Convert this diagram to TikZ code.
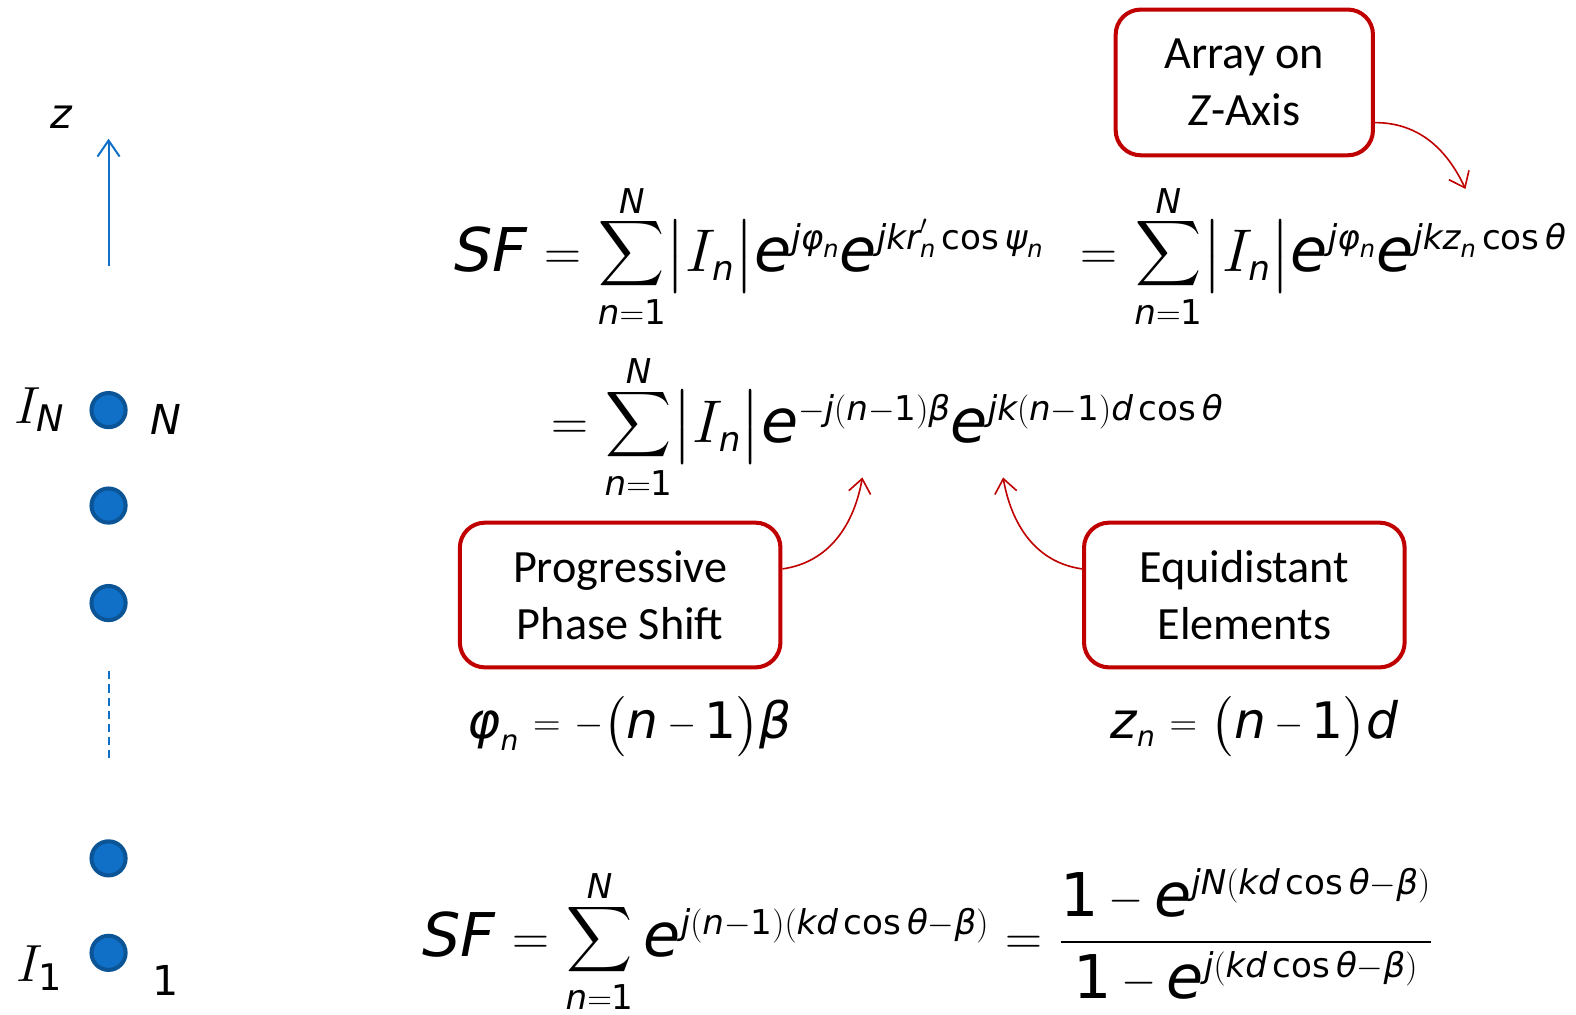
\RequirePackage{fix-cm}
\documentclass[tikz,border=0pt]{standalone}
\usepackage{amsmath}
\usepackage{graphicx}
\DeclareFontShape{OMX}{cmex}{m}{n}{<->cmex10}{}
\DeclareMathSizes{60}{60}{34}{24}
\DeclareMathSizes{50}{50}{28}{20}
\usepackage[no-math]{fontspec}
\setmainfont{Carlito}
\newfontfamily\eqf{DejaVu Sans}
\usetikzlibrary{arrows.meta}
\definecolor{axblue}{RGB}{16,112,200}
\definecolor{dotedge}{RGB}{11,84,150}
\definecolor{boxred}{RGB}{192,0,0}
\medmuskip=3mu\relax
\newcommand\vi[1]{\text{\eqf\itshape #1}}
\newcommand\vu[1]{\text{\eqf\upshape #1}}
\newcommand\meqA{\mathrel{\raisebox{0.0375em}{\scalebox{0.85}{$=$}}}}
\newcommand\meqB{\mathrel{\raisebox{0.06em}{\scalebox{0.76}{$=$}}}}
\newcommand\mmi{\mathbin{\raisebox{0.0625em}{\scalebox{0.75}{$-$}}}}
\newcommand\bsum[2]{\mathop{\vcenter{\offinterlineskip\halign{\hfil##\hfil\cr
  $\scriptstyle #2$\cr\noalign{\kern4pt}
  \scalebox{0.76}{$\displaystyle\sum$}\cr\noalign{\kern9pt}
  $\scriptstyle #1$\cr}}}}
\newcommand\Sn{\bsum{\vi{n}=\vu{1}}{\vi{N}}}
\tikzset{
  eqn/.style={inner sep=0pt, anchor=base west, font=\fontsize{60}{72}\selectfont},
  eqs/.style={inner sep=0pt, anchor=base west, font=\fontsize{50}{72}\selectfont},
  lbl/.style={inner sep=0pt, anchor=base west, font=\fontsize{41}{48}\selectfont\eqf\itshape},
  elem/.style={circle, fill=axblue, draw=dotedge, line width=4pt, minimum size=34pt, inner sep=0pt},
  callout/.style={draw=boxred, line width=4pt, rounded corners=25pt, fill=white,
    align=center, font=\fontsize{46}{57}\selectfont, inner sep=0pt},
  callarrow/.style={draw=boxred, line width=1.6pt, -{Straight Barb[length=14pt,width=22pt,line width=1.6pt]}},
}
\begin{document}
\begin{tikzpicture}[x=1pt,y=-1pt]
\useasboundingbox (0,0) rectangle (1568,1009);
% axis
\coordinate (zbot) at (108,265);
\coordinate (ztop) at (108,138);
\draw[axblue, line width=2pt, -{Straight Barb[length=16pt,width=22pt,line width=2pt]}] (zbot) -- (ztop);
\node[lbl] (zlab) at (50,128) {z};
% elements
\node[elem] (e5) at (108,408) {};
\node[elem] (e4) at (108,503) {};
\node[elem] (e3) at (108,600) {};
\node[elem] (e2) at (108,854) {};
\node[elem] (e1) at (108,948) {};
\coordinate (dtop) at (108,668);
\coordinate (dbot) at (108,758);
\draw[axblue, line width=2pt, dash pattern=on 8pt off 5pt] (dtop) -- (dbot);
\node[inner sep=0pt, anchor=base west, font=\fontsize{52}{60}\selectfont] (IN) at (14,421) {$I_{\vi{N}}$};
\node[lbl] (Nlab) at (150,432) {N};
\node[inner sep=0pt, anchor=base west, font=\fontsize{52}{60}\selectfont] (I1) at (16,977) {$I_{\vu{1}}$};
\node[lbl, font=\fontsize{41}{48}\selectfont\eqf\upshape] (onelab) at (152,990) {1};
% equations
\node[eqn] (eq1a) at (452,270) {$\vi{SF}\meqA\Sn\bigl|I_{\vi{n}}\bigr|\vi{e}^{\vi{jφ}_{\vi{n}}}\vi{e}^{\vi{jkr}'_{\vi{n}}\,\vu{cos}\,\vi{ψ}_{\vi{n}}}$};
\node[eqn] (eq1b) at (1075,270) {$\meqA\Sn\bigl|I_{\vi{n}}\bigr|\vi{e}^{\vi{jφ}_{\vi{n}}}\vi{e}^{\vi{jkz}_{\vi{n}}\,\vu{cos}\,\vi{θ}}$};
\node[eqn] (eq2) at (548,440) {$\meqA\Sn\bigl|I_{\vi{n}}\bigr|\vi{e}^{-\vi{j}\left(\vi{n}-\vu{1}\right)\vi{β}}\vi{e}^{\vi{jk}\left(\vi{n}-\vu{1}\right)\vi{d}\,\vu{cos}\,\vi{θ}}$};
\node[eqs] (eq3) at (465,735) {$\vi{φ}_{\vi{n}}\meqB\mmi\bigl(\vi{n}\mmi\vu{1}\bigr)\vi{β}$};
\node[eqs] (eq4) at (1105,735) {$\vi{z}_{\vi{n}}\meqB\bigl(\vi{n}\mmi\vu{1}\bigr)\vi{d}$};
\node[eqn] (eq5) at (420,952) {$\vi{SF}\meqA\Sn\vi{e}^{\vi{j}\left(\vi{n}-\vu{1}\right)\left(\vi{kd}\,\vu{cos}\,\vi{θ}-\vi{β}\right)}\meqA\dfrac{\vu{1}\mmi\vi{e}^{\vi{jN}\left(\vi{kd}\,\vu{cos}\,\vi{θ}-\vi{β}\right)}}{\vu{1}\mmi\vi{e}^{\vi{j}\left(\vi{kd}\,\vu{cos}\,\vi{θ}-\vi{β}\right)}}$};
% callouts
\node[callout, minimum width=256pt, minimum height=145pt] (b1) at (1238,82) {Array on\\\textit{Z}-Axis};
\node[callout, minimum width=319pt, minimum height=144pt] (b2) at (617,592) {Progressive\\Phase Shift};
\node[callout, minimum width=319pt, minimum height=144pt] (b3) at (1238,592) {Equidistant\\Elements};
\coordinate (t1) at (1458,188);
\coordinate (t2) at (858,475);
\coordinate (t3) at (998,475);
\draw[callarrow] ([yshift=-40pt]b1.east) to[out=0, in=115] (t1);
\draw[callarrow] ([yshift=26pt]b2.east) to[out=8, in=-100] (t2);
\draw[callarrow] ([yshift=26pt]b3.west) to[out=172, in=-80] (t3);
\end{tikzpicture}
\end{document}
